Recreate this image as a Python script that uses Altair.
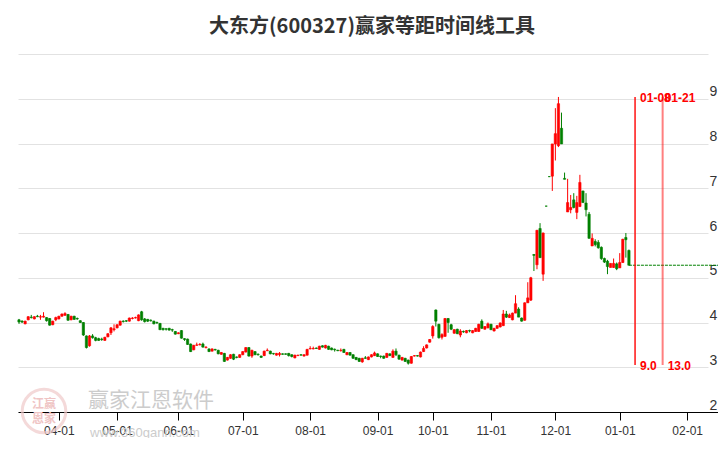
import json
import altair as alt
import numpy as np
import pandas as pd

title_text = "大东方(600327)赢家等距时间线工具"

opens = [4.06, 4.03, 3.97, 4.06, 4.12, 4.08, 4.14, 4.12, 4.12, 4.11,
         4.09, 3.95, 4.06, 4.08, 4.14, 4.16, 4.18, 4.06, 4.14, 4.09,
         4.04, 4.00, 3.70, 3.48, 3.70, 3.66, 3.64, 3.63, 3.60, 3.68,
         3.77, 3.84, 3.88, 3.94, 4.03, 4.04, 4.03, 4.09, 4.10, 4.04,
         4.24, 4.08, 4.07, 4.05, 4.03, 4.00, 3.98, 3.87, 3.86, 3.87,
         3.84, 3.80, 3.75, 3.82, 3.64, 3.63, 3.52, 3.39, 3.49, 3.50,
         3.52, 3.44, 3.41, 3.36, 3.40, 3.38, 3.29, 3.31, 3.16, 3.20,
         3.29, 3.23, 3.22, 3.28, 3.34, 3.44, 3.25, 3.35, 3.29, 3.25,
         3.26, 3.37, 3.36, 3.31, 3.27, 3.28, 3.30, 3.30, 3.31, 3.28,
         3.21, 3.26, 3.28, 3.25, 3.27, 3.41, 3.41, 3.43, 3.40, 3.48,
         3.43, 3.47, 3.43, 3.40, 3.38, 3.37, 3.40, 3.28, 3.33, 3.28,
         3.22, 3.20, 3.12, 3.21, 3.17, 3.23, 3.26, 3.30, 3.25, 3.25,
         3.22, 3.30, 3.22, 3.36, 3.27, 3.16, 3.20, 3.16, 3.09, 3.25,
         3.26, 3.23, 3.35, 3.43, 3.56, 3.70, 4.28, 3.96, 3.67, 3.69,
         4.09, 3.95, 3.76, 3.85, 3.72, 3.80, 3.77, 3.82, 3.77, 3.80,
         3.80, 4.03, 3.85, 3.88, 3.96, 3.81, 3.87, 3.90, 3.93, 4.19,
         4.11, 4.06, 4.21, 4.30, 4.10, 4.05, 4.44, 4.50, 5.52, 5.29,
         6.10, 5.08, 6.60, 7.26, 7.27, 7.99, 7.95, 8.34, 7.22, 6.47,
         6.52, 6.74, 6.46, 6.59, 6.94, 6.67, 6.42, 5.71, 5.81, 5.79,
         5.68, 5.43, 5.37, 5.23, 5.23, 5.31, 5.22, 5.34, 5.90, 5.61]
closes = [4.01, 4.01, 4.03, 4.13, 4.11, 4.13, 4.13, 4.13, 4.14, 4.04,
          3.94, 4.03, 4.11, 4.14, 4.19, 4.20, 4.05, 4.14, 4.07, 4.08,
          4.00, 3.72, 3.44, 3.70, 3.66, 3.60, 3.60, 3.62, 3.67, 3.75,
          3.88, 3.86, 3.95, 4.03, 4.02, 4.03, 4.10, 4.10, 4.11, 4.17,
          4.06, 4.02, 4.03, 4.04, 3.97, 3.99, 3.84, 3.84, 3.85, 3.83,
          3.83, 3.74, 3.77, 3.65, 3.62, 3.51, 3.35, 3.49, 3.50, 3.51,
          3.45, 3.45, 3.35, 3.41, 3.39, 3.30, 3.33, 3.13, 3.22, 3.28,
          3.18, 3.22, 3.28, 3.35, 3.44, 3.25, 3.38, 3.28, 3.28, 3.22,
          3.36, 3.38, 3.30, 3.30, 3.31, 3.31, 3.29, 3.29, 3.26, 3.24,
          3.27, 3.27, 3.27, 3.28, 3.40, 3.42, 3.42, 3.42, 3.47, 3.45,
          3.49, 3.40, 3.39, 3.39, 3.37, 3.38, 3.33, 3.33, 3.27, 3.20,
          3.17, 3.13, 3.20, 3.20, 3.23, 3.28, 3.32, 3.24, 3.24, 3.20,
          3.31, 3.26, 3.36, 3.28, 3.18, 3.22, 3.13, 3.09, 3.24, 3.26,
          3.25, 3.34, 3.42, 3.50, 3.62, 3.91, 4.03, 3.66, 3.73, 4.09,
          4.00, 3.85, 3.84, 3.75, 3.81, 3.79, 3.82, 3.81, 3.82, 3.87,
          3.96, 3.87, 3.91, 3.97, 3.84, 3.87, 3.93, 3.99, 4.19, 4.12,
          4.17, 4.21, 4.42, 4.12, 4.03, 4.44, 4.55, 5.00, 5.50, 6.06,
          5.45, 6.00, 6.60, 7.26, 7.99, 8.22, 8.89, 7.99, 7.20, 6.68,
          6.57, 6.57, 6.68, 7.13, 6.68, 6.52, 5.88, 5.88, 5.74, 5.67,
          5.43, 5.35, 5.25, 5.32, 5.32, 5.20, 5.34, 5.86, 5.85, 5.28]
highs = [4.08, 4.05, 4.04, 4.14, 4.17, 4.14, 4.17, 4.17, 4.23, 4.12,
         4.10, 4.04, 4.13, 4.15, 4.20, 4.23, 4.19, 4.15, 4.15, 4.11,
         4.05, 4.01, 3.71, 3.72, 3.74, 3.68, 3.66, 3.66, 3.68, 3.76,
         3.90, 3.96, 3.96, 4.04, 4.05, 4.05, 4.11, 4.12, 4.13, 4.18,
         4.26, 4.10, 4.08, 4.07, 4.04, 4.02, 3.99, 3.88, 3.87, 3.88,
         3.86, 3.81, 3.78, 3.83, 3.65, 3.64, 3.53, 3.50, 3.55, 3.54,
         3.55, 3.47, 3.42, 3.42, 3.41, 3.39, 3.34, 3.32, 3.23, 3.29,
         3.30, 3.24, 3.29, 3.36, 3.45, 3.45, 3.39, 3.36, 3.31, 3.26,
         3.37, 3.42, 3.37, 3.32, 3.32, 3.34, 3.31, 3.31, 3.32, 3.29,
         3.28, 3.28, 3.29, 3.29, 3.41, 3.47, 3.46, 3.44, 3.48, 3.49,
         3.50, 3.48, 3.44, 3.42, 3.39, 3.42, 3.41, 3.34, 3.34, 3.29,
         3.23, 3.21, 3.21, 3.25, 3.24, 3.29, 3.35, 3.31, 3.26, 3.26,
         3.32, 3.31, 3.40, 3.42, 3.28, 3.23, 3.21, 3.17, 3.25, 3.27,
         3.27, 3.35, 3.47, 3.51, 3.63, 3.94, 4.29, 3.97, 3.76, 4.10,
         4.10, 3.97, 3.85, 3.86, 3.85, 3.82, 3.83, 3.84, 3.83, 3.88,
         3.97, 4.07, 3.92, 4.00, 3.97, 3.88, 3.94, 4.00, 4.28, 4.26,
         4.20, 4.22, 4.61, 4.34, 4.11, 4.45, 4.90, 5.02, 5.53, 6.07,
         6.22, 6.01, 6.61, 7.27, 7.99, 8.79, 9.04, 8.69, 7.35, 7.21,
         6.85, 6.89, 6.83, 7.30, 6.94, 6.89, 6.47, 5.99, 5.86, 5.84,
         5.70, 5.45, 5.40, 5.32, 5.43, 5.34, 5.55, 5.87, 6.00, 5.63]
lows = [3.97, 3.99, 3.96, 4.05, 4.09, 4.07, 4.12, 4.06, 4.11, 4.02,
        3.93, 3.94, 4.03, 4.07, 4.13, 4.15, 4.04, 4.05, 4.06, 4.06,
        3.99, 3.70, 3.42, 3.46, 3.64, 3.58, 3.59, 3.59, 3.59, 3.67,
        3.72, 3.80, 3.87, 3.93, 4.00, 4.01, 4.02, 4.07, 4.09, 4.03,
        4.04, 4.00, 4.01, 4.02, 3.96, 3.97, 3.83, 3.82, 3.82, 3.82,
        3.79, 3.73, 3.74, 3.64, 3.59, 3.50, 3.34, 3.38, 3.48, 3.49,
        3.44, 3.42, 3.34, 3.35, 3.37, 3.29, 3.28, 3.12, 3.15, 3.19,
        3.16, 3.20, 3.21, 3.27, 3.33, 3.24, 3.21, 3.27, 3.26, 3.21,
        3.25, 3.36, 3.29, 3.28, 3.26, 3.24, 3.28, 3.28, 3.24, 3.22,
        3.20, 3.25, 3.26, 3.24, 3.26, 3.40, 3.40, 3.41, 3.39, 3.44,
        3.42, 3.39, 3.38, 3.35, 3.36, 3.35, 3.32, 3.27, 3.26, 3.19,
        3.16, 3.12, 3.10, 3.19, 3.16, 3.22, 3.25, 3.23, 3.20, 3.19,
        3.21, 3.25, 3.21, 3.25, 3.17, 3.15, 3.12, 3.06, 3.08, 3.24,
        3.24, 3.22, 3.34, 3.42, 3.55, 3.64, 3.91, 3.64, 3.62, 3.68,
        3.77, 3.83, 3.75, 3.74, 3.67, 3.77, 3.76, 3.78, 3.76, 3.79,
        3.79, 3.86, 3.84, 3.87, 3.83, 3.80, 3.86, 3.89, 3.92, 4.10,
        4.10, 4.05, 4.21, 4.12, 4.02, 4.04, 4.44, 4.48, 5.15, 5.19,
        5.44, 4.93, 6.59, 7.25, 6.94, 7.62, 7.92, 7.99, 7.20, 6.47,
        6.44, 6.55, 6.31, 6.59, 6.68, 6.37, 5.88, 5.71, 5.70, 5.65,
        5.40, 5.33, 5.08, 5.23, 5.22, 5.17, 5.22, 5.33, 5.45, 5.28]

tick_idx = [13, 32, 52, 73, 95, 117, 135, 154, 175, 196, 218]
tick_labels = ["04-01", "05-01", "06-01", "07-01", "08-01", "09-01",
               "10-01", "11-01", "12-01", "01-01", "02-01"]
marker_idx = [201, 210]
marker_dates = ["01-08", "01-21"]
marker_counts = ["9.0", "13.0"]
y_ticks = [2, 3, 4, 5, 6, 7, 8, 9, 10]

df = pd.DataFrame({"k": list(range(len(opens))), "o": opens, "h": highs,
                   "l": lows, "c": closes})
df["dir"] = np.where(df["c"] > df["o"], "up", "down")

W, H = 690, 358
xs = alt.Scale(domain=[-0.33, 224.8], nice=False, zero=False, padding=0)
ys = alt.Scale(domain=[2, 10], nice=False, zero=False, padding=0)
cs = alt.Scale(domain=["up", "down"], range=["#ff0000", "#008000"])

label_expr = f"{json.dumps(tick_labels)}[indexof({json.dumps(tick_idx)}, datum.value)]"
x_axis = alt.Axis(values=tick_idx, labelExpr=label_expr, grid=False, title=None,
                  domainColor="#000000", domainWidth=1, tickColor="#000000",
                  tickSize=8, labelFontSize=12, labelColor="#333333",
                  labelFont="Liberation Sans", labelPadding=5, labelFlush=False,
                  labelOverlap=False)
y_axis = alt.Axis(orient="right", values=y_ticks, grid=True, gridColor="#e2e2e2",
                  gridWidth=1, domain=False, ticks=False, tickSize=0, labelPadding=1,
                  labelFontSize=14, labelColor="#333333", labelFont="Liberation Sans",
                  labelExpr="datum.value == 10 ? '' : datum.label",
                  labelBaseline="alphabetic", labelOffset=-3, labelFlush=False,
                  title=None)

# watermark
wm = pd.DataFrame({"t": ["赢家江恩软件"]})
wm_url = pd.DataFrame({"t": ["www.360gann.com"]})
logo = pd.DataFrame({"t": ["江赢"], "u": ["恩家"]})
wm_logo = alt.Chart(logo).mark_point(shape="circle", size=1900, filled=False,
                                     stroke="#f0caca", strokeWidth=3).encode(
    x=alt.value(26), y=alt.value(357))
wm_logo_t1 = alt.Chart(logo).mark_text(fontSize=12, color="#efc4c4", fontWeight="bold",
                                       font="Noto Sans CJK SC").encode(
    x=alt.value(26), y=alt.value(350), text="t:N")
wm_logo_t2 = alt.Chart(logo).mark_text(fontSize=12, color="#efc4c4", fontWeight="bold",
                                       font="Noto Sans CJK SC").encode(
    x=alt.value(26), y=alt.value(365), text="u:N")
wm_text = alt.Chart(wm).mark_text(fontSize=21, color="#cccccc", align="left",
                                  font="Noto Sans CJK SC").encode(
    x=alt.value(70), y=alt.value(347), text="t:N")
wm_text2 = alt.Chart(wm_url).mark_text(fontSize=13, color="#cccccc", align="left",
                                       font="Liberation Sans").encode(
    x=alt.value(72), y=alt.value(379), text="t:N")

wicks = alt.Chart(df).mark_rule(strokeWidth=1).encode(
    x=alt.X("k:Q", scale=xs, axis=x_axis),
    y=alt.Y("l:Q", scale=ys, axis=y_axis),
    y2="h:Q",
    color=alt.Color("dir:N", scale=cs, legend=None),
)
bodies = alt.Chart(df).mark_bar(size=2.3, strokeWidth=0.6).encode(
    x=alt.X("k:Q", scale=xs),
    y=alt.Y("o:Q", scale=ys),
    y2="c:Q",
    color=alt.Color("dir:N", scale=cs, legend=None),
    stroke=alt.Stroke("dir:N", scale=cs, legend=None),
)

# x axis line continues to the right edge
axis_ext = alt.Chart(pd.DataFrame({"t": [""]})).mark_rule(color="#000000", strokeWidth=1).encode(
    x=alt.value(W - 1), x2=alt.value(W + 12), y=alt.value(H + 0.5))

last = pd.DataFrame({"k": [len(closes) - 1], "p": [closes[-1]]})
last_line = alt.Chart(last).mark_rule(color="#008000", strokeWidth=1,
                                      strokeDash=[3, 1]).encode(
    x=alt.X("k:Q", scale=xs),
    x2=alt.value(W + 12),
    y=alt.Y("p:Q", scale=ys),
)

mk = pd.DataFrame({"k": marker_idx, "d": marker_dates, "n": marker_counts})
mk1 = mk.iloc[[0]]
mk2 = mk.iloc[[1]]
line1 = alt.Chart(mk1).mark_rule(color="#ff0000", strokeWidth=1.4).encode(
    x=alt.X("k:Q", scale=xs), y=alt.value(43), y2=alt.value(311))
line2 = alt.Chart(mk2).mark_rule(color="#ff0000", strokeWidth=2, opacity=0.5).encode(
    x=alt.X("k:Q", scale=xs), y=alt.value(43), y2=alt.value(311))
txt_style = dict(color="#ff0000", fontSize=12, fontWeight="bold", align="left",
                 baseline="middle", font="Liberation Sans")
top1 = alt.Chart(mk1).mark_text(dx=5, **txt_style).encode(
    x=alt.X("k:Q", scale=xs), y=alt.value(44), text="d:N")
top2 = alt.Chart(mk2).mark_text(dx=2, **txt_style).encode(
    x=alt.X("k:Q", scale=xs), y=alt.value(44), text="d:N")
bot = alt.Chart(mk).mark_text(dx=5, **txt_style).encode(
    x=alt.X("k:Q", scale=xs), y=alt.value(312), text="n:N")

title = alt.Chart(pd.DataFrame({"t": [title_text]})).mark_text(
    font="Noto Sans CJK SC", fontSize=20, fontWeight="bold", color="#333333").encode(
    x=alt.value(354), y=alt.value(-27), text="t:N")

chart = alt.layer(
    wicks, wm_logo, wm_logo_t1, wm_logo_t2, wm_text, wm_text2,
    bodies, axis_ext, last_line, line1, line2, top1, top2, bot, title
).properties(
    width=W, height=H,
    background="#ffffff",
    padding={"left": 10, "top": 46, "right": 10, "bottom": 26},
    autosize=alt.AutoSizeParams(type="none"),
).configure_view(strokeWidth=0).configure_axisLeft(
    domain=False, ticks=False, labels=False, grid=False
)

chart.save("out.html", embed_options={"renderer": "svg", "actions": False})
